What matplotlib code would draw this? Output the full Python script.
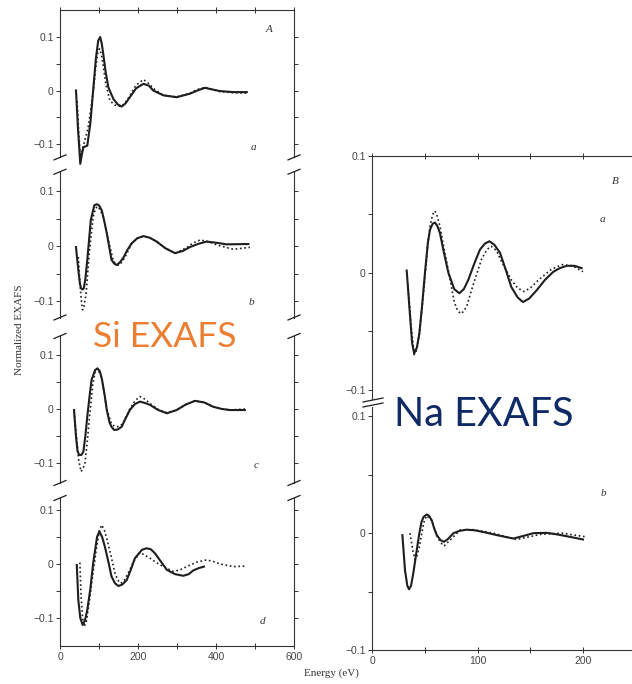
import matplotlib.pyplot as plt
from matplotlib.lines import Line2D

# ---- Si EXAFS (left column), energy in eV ----
si_a_solid_e = [41, 46, 52, 56, 60, 70, 78, 85, 92, 98, 103, 107, 111, 117, 124, 137, 148, 158, 168, 179, 195, 214, 228, 239, 265, 299, 333, 352, 372, 390, 410, 444, 479]
si_a_solid_v = [0, -0.07, -0.137, -0.12, -0.106, -0.103, -0.06, 0.0, 0.06, 0.093, 0.1, 0.088, 0.068, 0.035, 0.006, -0.016, -0.026, -0.03, -0.024, -0.0125, 0.004, 0.0125, 0.009, 0.0, -0.009, -0.0125, -0.006, 0.0, 0.005, 0.002, -0.001, -0.003, -0.003]
si_a_dot_e = [44, 48, 52, 57, 62, 72, 80, 86, 92, 97, 101, 106, 110, 118, 128, 140, 150, 158, 168, 179, 195, 214, 228, 239, 265, 299, 333, 352, 372, 390, 410, 444, 482]
si_a_dot_v = [-0.02, -0.08, -0.12, -0.11, -0.098, -0.07, -0.03, 0.003, 0.045, 0.072, 0.078, 0.068, 0.05, 0.01, -0.019, -0.027, -0.029, -0.03, -0.022, -0.01, 0.01, 0.0205, 0.013, 0.004, -0.009, -0.012, -0.005, 0.002, 0.006, 0.002, -0.002, -0.004, -0.005]

si_b_solid_e = [41, 45, 48, 51, 54, 58, 61, 65, 70, 79, 88, 94, 100, 107, 113, 120, 132, 139, 145, 152, 162, 172, 184, 198, 214, 230, 248, 270, 295, 315, 333, 355, 376, 400, 427, 483]
si_b_solid_v = [-0.002, -0.03, -0.05, -0.068, -0.077, -0.079, -0.077, -0.06, -0.025, 0.047, 0.074, 0.076, 0.074, 0.065, 0.047, 0.023, -0.025, -0.032, -0.0345, -0.031, -0.022, -0.008, 0.005, 0.014, 0.018, 0.015, 0.008, -0.004, -0.013, -0.009, -0.002, 0.004, 0.008, 0.006, 0.003, 0.0036]
si_b_dot_e = [47, 50, 53, 56, 58, 61, 67, 75, 85, 91, 96, 103, 111, 124, 137, 144, 150, 158, 167, 184, 198, 214, 230, 248, 270, 295, 325, 340, 359, 380, 402, 444, 487]
si_b_dot_v = [-0.02, -0.055, -0.085, -0.108, -0.116, -0.112, -0.086, -0.013, 0.053, 0.068, 0.072, 0.066, 0.053, 0.011, -0.028, -0.033, -0.035, -0.03, -0.02, 0.005, 0.014, 0.018, 0.015, 0.008, -0.004, -0.013, -0.003, 0.005, 0.011, 0.008, 0.002, -0.006, -0.0024]

si_c_solid_e = [36, 41, 45, 49, 55, 60, 65, 70, 76, 81, 90, 96, 102, 107, 114, 120, 127, 132, 139, 148, 158, 168, 179, 192, 205, 218, 231, 252, 274, 299, 322, 346, 370, 393, 415, 436, 474]
si_c_solid_v = [-0.002, -0.051, -0.078, -0.085, -0.085, -0.079, -0.05, -0.014, 0.025, 0.054, 0.072, 0.075, 0.07, 0.057, 0.028, -0.002, -0.025, -0.033, -0.039, -0.038, -0.033, -0.018, -0.002, 0.009, 0.0136, 0.011, 0.0074, -0.002, -0.008, -0.002, 0.008, 0.015, 0.012, 0.004, 0.0, -0.002, -0.002]
si_c_dot_e = [36, 42, 48, 54, 59, 64, 70, 75, 84, 90, 96, 107, 120, 132, 140, 145, 152, 160, 179, 192, 205, 218, 231, 252, 274, 299, 322, 346, 370, 393, 415, 436, 474]
si_c_dot_v = [-0.005, -0.05, -0.095, -0.116, -0.11, -0.1, -0.06, -0.02, 0.045, 0.068, 0.075, 0.057, 0.0, -0.028, -0.032, -0.033, -0.032, -0.028, 0.0, 0.015, 0.023, 0.018, 0.01, -0.001, -0.007, -0.002, 0.008, 0.015, 0.012, 0.004, 0.0, -0.002, 0.0]

si_d_solid_e = [43, 47, 52, 58, 64, 70, 78, 85, 95, 101, 108, 115, 124, 132, 141, 150, 160, 171, 182, 192, 210, 222, 233, 243, 258, 274, 295, 316, 330, 342, 355, 369]
si_d_solid_v = [-0.002, -0.067, -0.1, -0.113, -0.105, -0.085, -0.045, 0.001, 0.05, 0.06, 0.05, 0.032, 0.004, -0.023, -0.036, -0.041, -0.038, -0.03, -0.01, 0.0105, 0.026, 0.029, 0.027, 0.02, 0.005, -0.011, -0.019, -0.022, -0.019, -0.012, -0.008, -0.005]
si_d_dot_e = [51, 54, 58, 62, 68, 77, 85, 94, 101, 107, 114, 121, 131, 141, 148, 156, 165, 175, 190, 205, 218, 231, 248, 265, 291, 308, 325, 350, 376, 395, 410, 444, 479]
si_d_dot_v = [0.0025, -0.06, -0.1, -0.116, -0.105, -0.06, -0.015, 0.032, 0.062, 0.072, 0.062, 0.044, 0.014, -0.017, -0.03, -0.036, -0.03, -0.017, 0.006, 0.021, 0.016, 0.0105, 0.002, -0.005, -0.014, -0.011, -0.005, 0.003, 0.0074, 0.004, 0.0, -0.005, -0.004]

# ---- Na EXAFS (right column) ----
na_a_solid_e = [32.9, 35.4, 38, 40, 42.5, 44.9, 47.5, 50.2, 53, 55, 57.5, 59.7, 62, 64.4, 68, 72.4, 78, 82.8, 87, 91.3, 97, 102.4, 107, 111.2, 116, 121.4, 127, 132, 138, 143, 149, 156, 164, 172, 178, 184.5, 192, 198.7]
na_a_solid_v = [0.002, -0.029, -0.06, -0.069, -0.064, -0.052, -0.028, 0.0, 0.026, 0.037, 0.042, 0.043, 0.04, 0.034, 0.018, 0.0, -0.014, -0.0175, -0.014, -0.006, 0.008, 0.02, 0.025, 0.027, 0.024, 0.017, 0.002, -0.012, -0.021, -0.025, -0.022, -0.015, -0.006, 0.001, 0.004, 0.006, 0.006, 0.004]
na_a_dot_e = [34, 37, 40, 42.5, 45, 48, 50.5, 53, 55, 57.5, 59.7, 62, 64.4, 68, 72.4, 78, 81, 84, 87, 90, 96, 104, 109, 113, 118, 122, 132, 138, 144, 150, 158, 170, 180, 190, 200]
na_a_dot_v = [-0.01, -0.045, -0.07, -0.066, -0.05, -0.025, 0.0, 0.025, 0.04, 0.05, 0.053, 0.048, 0.04, 0.022, 0.002, -0.025, -0.032, -0.035, -0.033, -0.028, -0.01, 0.012, 0.02, 0.0227, 0.019, 0.011, -0.006, -0.013, -0.016, -0.013, -0.006, 0.003, 0.007, 0.006, 0.001]

na_b_solid_e = [28.8, 31.3, 33.5, 35.1, 37, 39.2, 42, 44.9, 47, 49, 51.8, 54, 56.6, 59, 61.4, 65, 68.3, 72, 77.2, 83, 89.8, 97, 105.6, 120, 134, 145, 153, 165.6, 175, 184.5, 200]
na_b_solid_v = [-0.0017, -0.032, -0.045, -0.048, -0.045, -0.034, -0.017, 0.0, 0.01, 0.014, 0.016, 0.015, 0.011, 0.004, -0.0017, -0.006, -0.0074, -0.005, 0.0, 0.002, 0.003, 0.0025, 0.001, -0.002, -0.0046, -0.002, 0.0, 0.0003, -0.001, -0.0026, -0.0054]
na_b_dot_e = [36, 38.6, 40.8, 42.5, 44.9, 49, 51.8, 56.6, 61.4, 65, 68.3, 74, 83.4, 96, 115, 137, 160, 180, 202]
na_b_dot_v = [0.0, -0.0145, -0.0225, -0.02, -0.0117, 0.009, 0.015, 0.011, -0.002, -0.008, -0.011, -0.006, 0.0026, 0.003, 0.0, -0.0054, -0.001, 0.0, -0.003]

W, H = 632, 684
INK = '#1e1e1e'

plt.rcParams['font.family'] = ['Liberation Sans', 'DejaVu Sans']
fig = plt.figure(figsize=(W / 100, H / 100), dpi=100)


def px_axes(x0, y0, x1, y1):
    return fig.add_axes([x0 / W, 1 - y1 / H, (x1 - x0) / W, (y1 - y0) / H])


def slash(xp, yp, dx=6, dy=2.5):
    fig.add_artist(Line2D([(xp - dx) / W, (xp + dx) / W], [1 - (yp + dy) / H, 1 - (yp - dy) / H],
                          color=INK, lw=0.9))


def style(ax, top=False, bottom=False, right=True):
    for side in ['left', 'right', 'top', 'bottom']:
        ax.spines[side].set_color('#333333')
        ax.spines[side].set_linewidth(0.8)
    ax.spines['top'].set_visible(top)
    ax.spines['bottom'].set_visible(bottom)
    ax.spines['right'].set_visible(right)
    ax.set_yticks([-0.1, 0, 0.1])
    ax.set_yticklabels(['\u22120.1', '0', '0.1'])
    ax.set_yticks([-0.05, 0.05], minor=True)
    ax.tick_params(axis='y', which='both', direction='out', length=3, width=0.7, color='#333333',
                   labelsize=7.5, labelcolor='#444444', pad=1.5, right=right)
    ax.tick_params(axis='x', which='both', direction='inout', length=4, width=0.7, color='#333333',
                   labelsize=7.5, labelcolor='#444444', pad=2, top=top, bottom=bottom,
                   labelbottom=bottom)


def draw(ax, se, sv, de, dv):
    # the scan lets the deepest dips run past the axis break
    ax.plot(se, sv, color=INK, lw=1.5, solid_joinstyle='round', clip_on=False)
    ax.plot(de, dv, color=INK, lw=1.2, linestyle=(0, (1, 1.6)), clip_on=False)


# left column
left_specs = [
    ((60, 10.25, 294, 157.4), (-0.125, 0.15), si_a_solid_e, si_a_solid_v, si_a_dot_e, si_a_dot_v),
    ((60, 171.75, 294, 317.5), (-0.13, 0.135), si_b_solid_e, si_b_solid_v, si_b_dot_e, si_b_dot_v),
    ((60, 336, 294, 483), (-0.137, 0.135), si_c_solid_e, si_c_solid_v, si_c_dot_e, si_c_dot_v),
    ((60, 498, 294, 646), (-0.152, 0.122), si_d_solid_e, si_d_solid_v, si_d_dot_e, si_d_dot_v),
]
for i, (box, ylim, se, sv, de, dv) in enumerate(left_specs):
    ax = px_axes(*box)
    draw(ax, se, sv, de, dv)
    ax.set_xlim(0, 600)
    ax.set_ylim(*ylim)
    style(ax, top=(i == 0), bottom=(i == 3))
    ax.set_xticks([0, 200, 400, 600])
    ax.set_xticks([100, 300, 500], minor=True)
    if i < 3:
        slash(60, box[3])
        slash(294, box[3])
    if i > 0:
        slash(60, box[1])
        slash(294, box[1])

# right column
right_xmax = (W - 372) / 1.055
ax_ba = px_axes(372, 156, W, 399)
draw(ax_ba, na_a_solid_e, na_a_solid_v, na_a_dot_e, na_a_dot_v)
ax_ba.set_xlim(0, right_xmax)
ax_ba.set_ylim(-0.108, 0.1)
style(ax_ba, top=True, right=False)
ax_ba.set_xticks([0, 100, 200])
ax_ba.set_xticks([50, 150], minor=True)

ax_bb = px_axes(372, 407, W, 650)
draw(ax_bb, na_b_solid_e, na_b_solid_v, na_b_dot_e, na_b_dot_v)
ax_bb.set_xlim(0, right_xmax)
ax_bb.set_ylim(-0.1, 0.108)
style(ax_bb, bottom=True, right=False)
ax_bb.set_xticks([0, 100, 200])
ax_bb.set_xticks([50, 150], minor=True)
slash(373, 400, dx=10, dy=2)
slash(373, 405, dx=10, dy=2)

# axis titles in the scan's serif
serif = ['Liberation Serif', 'DejaVu Serif']
fig.text(20 / W, 1 - 330 / H, 'Normalized EXAFS', rotation=90, ha='center', va='center',
         family=serif, fontsize=8, color='#333333')
fig.text(331 / W, 1 - 673 / H, 'Energy (eV)', ha='center', va='center',
         family=serif, fontsize=8, color='#333333')

# panel letters
for s, x, y in [('A', 269, 30), ('a', 253, 147), ('b', 251, 303), ('c', 256, 466), ('d', 262, 621),
                ('B', 615, 181), ('a', 602, 219), ('b', 603, 493)]:
    fig.text(x / W, 1 - y / H, s, ha='center', va='center', family=serif, style='italic',
             fontsize=8, color='#333333')

# overlay captions
fig.text(165 / W, 1 - 337 / H, 'Si EXAFS', ha='center', va='center', family=['Lato', 'DejaVu Sans'],
         fontsize=25.5, color='#ED7D31')
fig.text(484 / W, 1 - 415 / H, 'Na EXAFS', ha='center', va='center', family=['Lato', 'DejaVu Sans'],
         fontsize=28.5, color='#0F2A66')

fig.savefig('out.png', dpi=100, facecolor='white')
